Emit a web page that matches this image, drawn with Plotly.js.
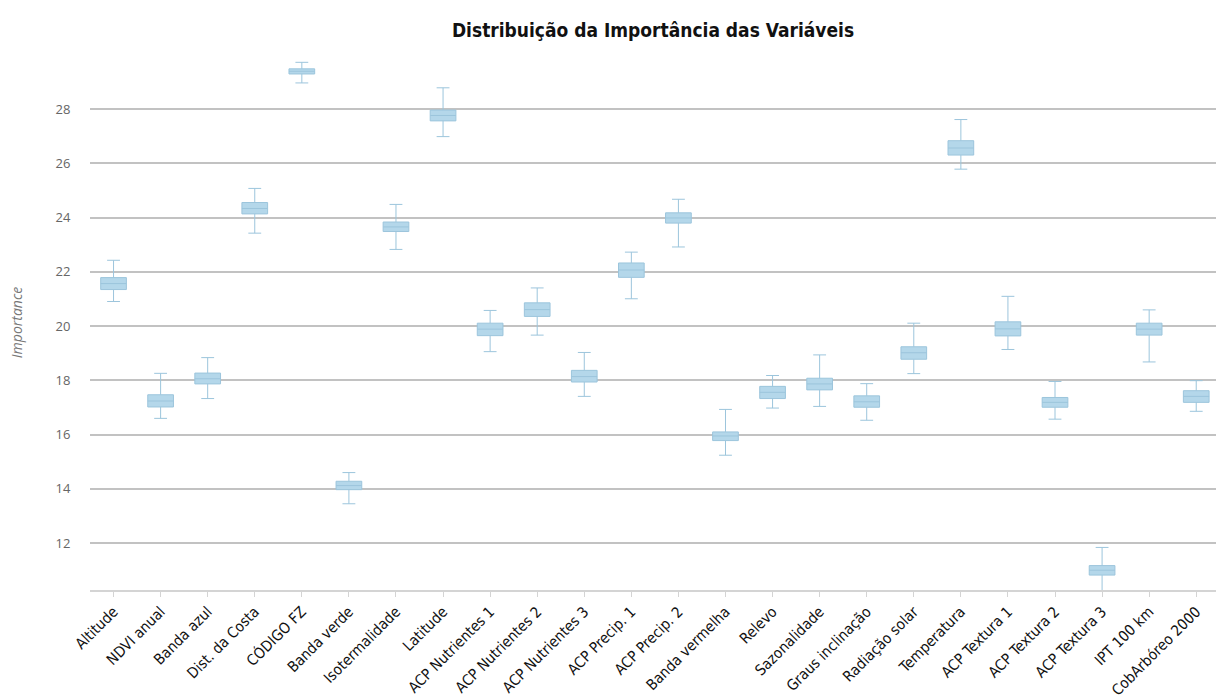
<!DOCTYPE html>
<html>
<head>
<meta charset="utf-8">
<script src="https://cdn.plot.ly/plotly-3.0.1.min.js"></script>
<style>
  html, body { margin: 0; padding: 0; background: #ffffff; }
  #chart { width: 1216px; height: 699px; }
</style>
</head>
<body>
<div id="chart"></div>
<script>
const categories = ["Altitude", "NDVI anual", "Banda azul", "Dist. da Costa", "CÓDIGO FZ", "Banda verde",
  "Isotermalidade", "Latitude", "ACP Nutrientes 1", "ACP Nutrientes 2", "ACP Nutrientes 3", "ACP Precip. 1",
  "ACP Precip. 2", "Banda vermelha", "Relevo", "Sazonalidade", "Graus inclinação", "Radiação solar",
  "Temperatura", "ACP Textura 1", "ACP Textura 2", "ACP Textura 3", "IPT 100 km", "CobArbóreo 2000"];

const lowerWhisker = [20.91, 16.60, 17.33, 23.43, 28.97, 13.45,
  22.83, 26.99, 19.06, 19.67, 17.41, 21.01,
  22.92, 15.24, 16.98, 17.04, 16.53, 18.25,
  25.79, 19.14, 16.57, 10.00, 18.68, 16.86];
const q1Values = [21.35, 17.02, 17.87, 24.14, 29.30, 13.97,
  23.49, 27.57, 19.65, 20.36, 17.94, 21.80,
  23.80, 15.78, 17.33, 17.65, 17.01, 18.78,
  26.31, 19.64, 17.01, 10.82, 19.67, 17.19];
const medianValues = [21.57, 17.24, 18.06, 24.34, 29.40, 14.12,
  23.66, 27.77, 19.89, 20.61, 18.14, 22.07,
  23.99, 15.95, 17.56, 17.87, 17.21, 19.02,
  26.57, 19.90, 17.19, 11.00, 19.89, 17.41];
const q3Values = [21.79, 17.47, 18.27, 24.56, 29.49, 14.28,
  23.84, 27.97, 20.11, 20.86, 18.37, 22.33,
  24.18, 16.10, 17.78, 18.08, 17.43, 19.24,
  26.84, 20.16, 17.37, 11.17, 20.11, 17.62];
const upperWhisker = [22.43, 18.26, 18.84, 25.08, 29.73, 14.60,
  24.49, 28.79, 20.58, 21.41, 19.03, 22.73,
  24.68, 16.93, 18.18, 18.94, 17.88, 20.11,
  27.62, 21.10, 17.96, 11.84, 20.60, 17.99];

const yTicks = [12, 14, 16, 18, 20, 22, 24, 26, 28];

const condensed = "'Liberation Sans Narrow', 'DejaVu Sans Condensed', 'Arial Narrow', 'Open Sans', sans-serif";

const trace = {
  type: "box",
  x: categories,
  q1: q1Values,
  median: medianValues,
  q3: q3Values,
  lowerfence: lowerWhisker,
  upperfence: upperWhisker,
  fillcolor: "#b4d7ea",
  line: { color: "#9cc5dc", width: 1 },
  whiskerwidth: 0.5,
  boxpoints: false,
  hoverinfo: "skip",
  showlegend: false
};

const layout = {
  width: 1216,
  height: 699,
  paper_bgcolor: "#ffffff",
  plot_bgcolor: "#ffffff",
  margin: { l: 90, r: 0, t: 55, b: 109 },
  title: {
    text: "<b>Distribuição da Importância das Variáveis</b>",
    font: { family: condensed, size: 19, color: "#111111" },
    x: 0.5, xref: "paper",
    y: 1 - 30 / 699, yref: "container", yanchor: "middle"
  },
  boxgap: 0.22,
  xaxis: {
    type: "category",
    range: [-0.5, 23.42],
    showgrid: false,
    zeroline: false,
    showline: true,
    linecolor: "#d4d4d4",
    linewidth: 2,
    ticks: "outside",
    ticklen: 5,
    tickcolor: "#d4d4d4",
    tickangle: -45,
    tickfont: { family: condensed, size: 15, color: "#111111" }
  },
  yaxis: {
    range: [10.27, 30],
    tickvals: yTicks,
    ticktext: yTicks.map(String),
    showgrid: true,
    gridcolor: "#c2c2c2",
    gridwidth: 2,
    zeroline: false,
    showline: false,
    ticks: "outside",
    ticklen: 16,
    tickcolor: "rgba(0,0,0,0)",
    tickfont: { family: "'Open Sans', sans-serif", size: 13, color: "#666666" },
    title: {
      text: "<i>Importance</i>",
      font: { family: "'Open Sans', sans-serif", size: 14, color: "#777777" },
      standoff: 29
    }
  }
};

Plotly.newPlot("chart", [trace], layout, { displayModeBar: false, staticPlot: true });
</script>
</body>
</html>
